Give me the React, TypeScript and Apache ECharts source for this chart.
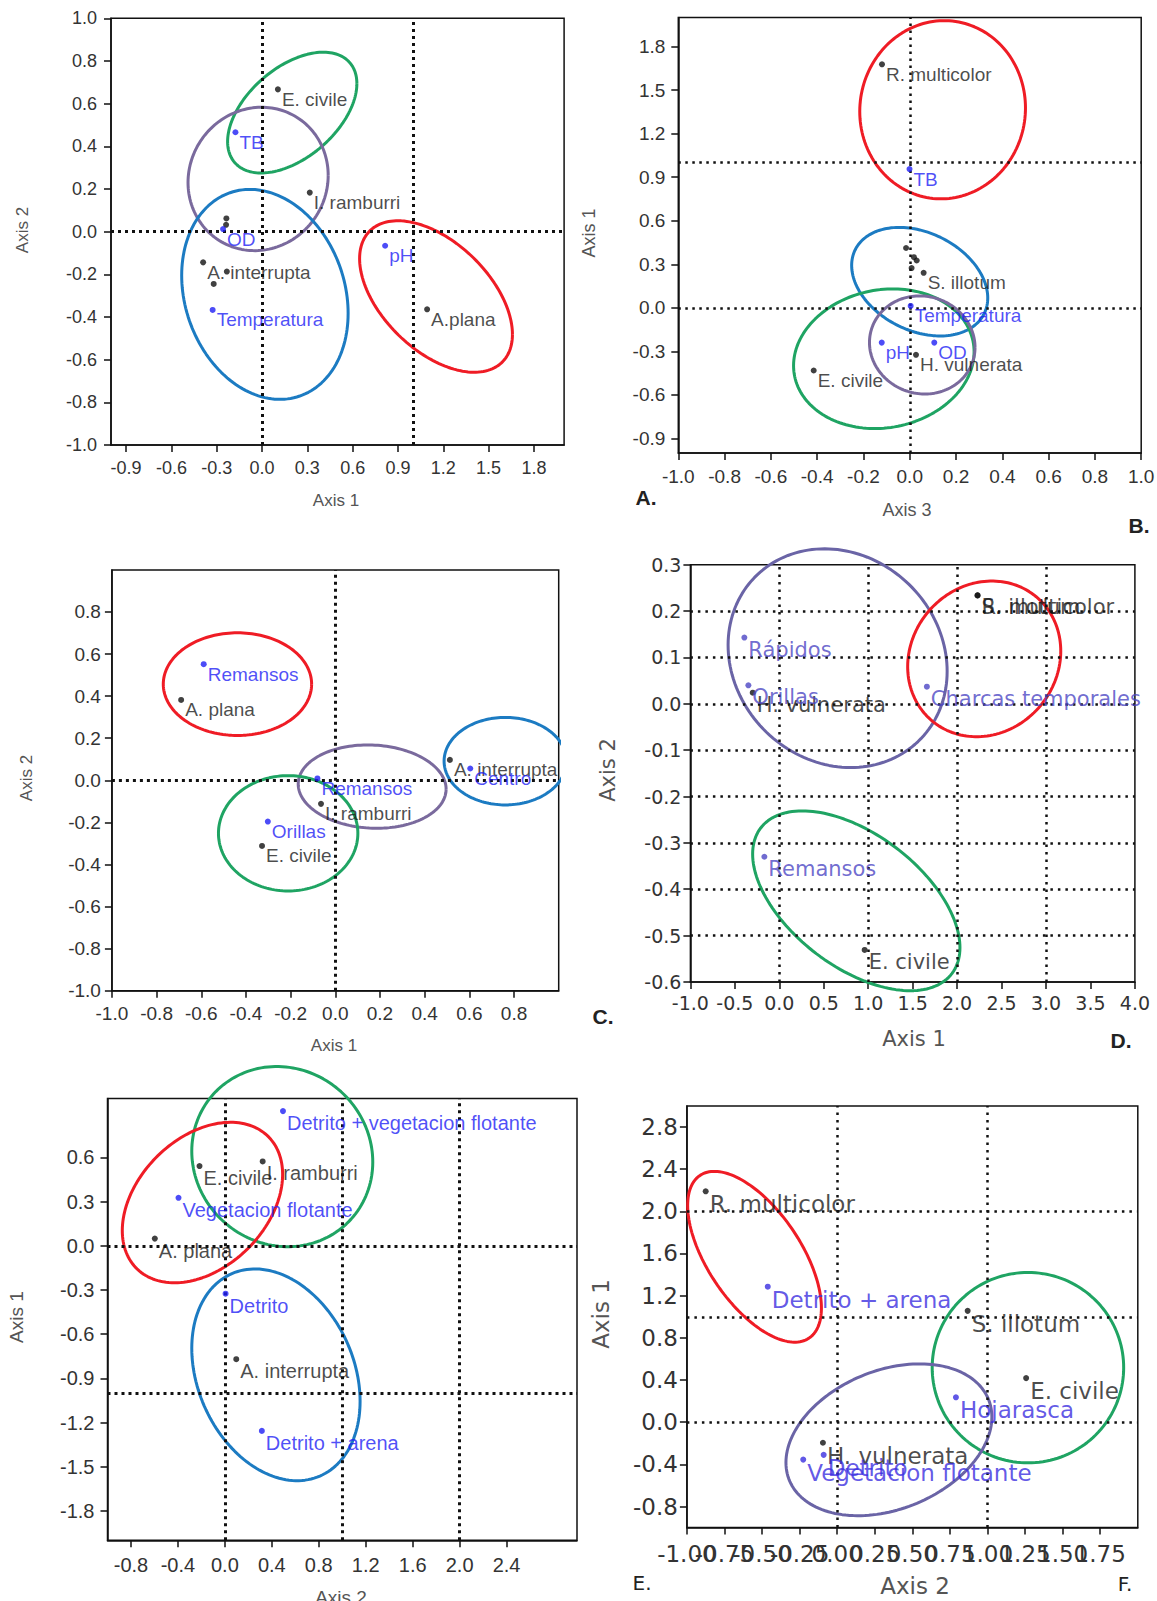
import React, { useEffect, useRef } from "react";
import * as echarts from "echarts";

type Item = [string, number, number];
// [group, centreX, centreY, halfExtentX, halfExtentY, tilt correlation]
type Ell = [string, number, number, number, number, number];

// ---------------- Panel A ----------------
const aXTicks = [-0.9, -0.6, -0.3, 0, 0.3, 0.6, 0.9, 1.2, 1.5, 1.8];
const aYTicks = [-1, -0.8, -0.6, -0.4, -0.2, 0, 0.2, 0.4, 0.6, 0.8, 1];
const aSpecies: Item[] = [
  ["E. civile", 0.105, 0.667],
  ["I. ramburri", 0.316, 0.183],
  ["", -0.236, 0.062],
  ["", -0.238, 0.032],
  ["A. interrupta", -0.39, -0.144],
  ["", -0.233, -0.187],
  ["", -0.32, -0.245],
  ["A.plana", 1.093, -0.364],
];
const aVariables: Item[] = [
  ["TB", -0.176, 0.466],
  ["OD", -0.258, 0.012],
  ["pH", 0.815, -0.066],
  ["Temperatura", -0.327, -0.367],
];
const aEllipses: Ell[] = [
  ["green", 0.2, 0.558, 0.428, 0.283, 0.48],
  ["purple", -0.026, 0.247, 0.464, 0.336, 0.05],
  ["blue", 0.019, -0.294, 0.551, 0.492, -0.18],
  ["red", 1.152, -0.304, 0.506, 0.355, -0.5],
];

// ---------------- Panel B ----------------
const bXTicks = [-1, -0.8, -0.6, -0.4, -0.2, 0, 0.2, 0.4, 0.6, 0.8, 1];
const bYTicks = [-0.9, -0.6, -0.3, 0, 0.3, 0.6, 0.9, 1.2, 1.5, 1.8];
const bSpecies: Item[] = [
  ["R. multicolor", -0.12, 1.678],
  ["", -0.016, 0.412],
  ["", 0.018, 0.349],
  ["", 0.03, 0.326],
  ["", 0.008, 0.274],
  ["S. illotum", 0.06, 0.241],
  ["H. vulnerata", 0.027, -0.324],
  ["E. civile", -0.415, -0.432],
];
const bVariables: Item[] = [
  ["TB", -0.001, 0.956],
  ["Temperatura", 0.004, 0.013],
  ["pH", -0.121, -0.24],
  ["OD", 0.106, -0.24],
];
const bEllipses: Ell[] = [
  ["red", 0.142, 1.365, 0.358, 0.614, 0.02],
  ["blue", 0.043, 0.18, 0.294, 0.374, -0.3],
  ["green", -0.112, -0.351, 0.39, 0.481, 0.1],
  ["purple", 0.054, -0.256, 0.228, 0.338, -0.05],
];

// ---------------- Panel C ----------------
const cXTicks = [-1, -0.8, -0.6, -0.4, -0.2, 0, 0.2, 0.4, 0.6, 0.8];
const cYTicks = [-1, -0.8, -0.6, -0.4, -0.2, 0, 0.2, 0.4, 0.6, 0.8];
const cSpecies: Item[] = [
  ["A. plana", -0.69, 0.382],
  ["I. ramburri", -0.064, -0.112],
  ["E. civile", -0.328, -0.312],
  ["A. interrupta", 0.513, 0.097],
];
const cVariables: Item[] = [
  ["Remansos", -0.589, 0.552],
  ["Remansos", -0.08, 0.009],
  ["Orillas", -0.302, -0.196],
  ["Centro", 0.604, 0.056],
];
const cEllipses: Ell[] = [
  ["red", -0.438, 0.457, 0.332, 0.244, 0],
  ["purple", 0.165, -0.03, 0.331, 0.198, -0.06],
  ["blue", 0.761, 0.091, 0.274, 0.208, 0],
  ["green", -0.211, -0.252, 0.312, 0.274, 0],
];

// ---------------- Panel D ----------------
const dXTicks = [-1, -0.5, 0, 0.5, 1, 1.5, 2, 2.5, 3, 3.5, 4];
const dYTicks = [-0.6, -0.5, -0.4, -0.3, -0.2, -0.1, 0, 0.1, 0.2, 0.3];
const dSpecies: Item[] = [
  ["R. multicolor", 2.23, 0.234],
  ["S. illotum", 2.23, 0.234],
  ["H. vulnerata", -0.299, 0.024],
  ["E. civile", 0.96, -0.531],
];
const dVariables: Item[] = [
  ["Rápidos", -0.393, 0.143],
  ["Orillas", -0.348, 0.04],
  ["Charcas temporales", 1.66, 0.037],
  ["Remansos", -0.168, -0.33],
];
const dEllipses: Ell[] = [
  ["purple", 0.656, 0.0985, 1.232, 0.236, -0.12],
  ["red", 2.305, 0.097, 0.861, 0.168, 0.1],
  ["green", 0.866, -0.425, 1.166, 0.194, -0.52],
];

// ---------------- Panel E ----------------
const eXTicks = [-0.8, -0.4, 0, 0.4, 0.8, 1.2, 1.6, 2, 2.4];
const eYTicks = [-1.8, -1.5, -1.2, -0.9, -0.6, -0.3, 0, 0.3, 0.6];
const eSpecies: Item[] = [
  ["E. civile", -0.216, 0.542],
  ["I. ramburri", 0.322, 0.573],
  ["A. plana", -0.597, 0.049],
  ["A. interrupta", 0.097, -0.77],
];
const eVariables: Item[] = [
  ["Detrito + vegetacion flotante", 0.495, 0.915],
  ["Vegetacion flotante", -0.395, 0.326],
  ["Detrito", 0.006, -0.325],
  ["Detrito + arena", 0.315, -1.257],
];
const eEllipses: Ell[] = [
  ["green", 0.489, 0.606, 0.771, 0.612, -0.06],
  ["red", -0.191, 0.294, 0.683, 0.545, 0.35],
  ["blue", 0.435, -0.876, 0.717, 0.719, -0.25],
];

// ---------------- Panel F ----------------
const fXTicks = [-1, -0.75, -0.5, -0.25, 0, 0.25, 0.5, 0.75, 1, 1.25, 1.5, 1.75];
const fYTicks = [-0.8, -0.4, 0, 0.4, 0.8, 1.2, 1.6, 2, 2.4, 2.8];
const fSpecies: Item[] = [
  ["R. multicolor", -0.875, 2.19],
  ["S. illotum", 0.868, 1.056],
  ["E. civile", 1.257, 0.418],
  ["H. vulnerata", -0.095, -0.195],
];
const fVariables: Item[] = [
  ["Detrito + arena", -0.462, 1.285],
  ["Hojarasca", 0.79, 0.236],
  ["Detrito", -0.09, -0.31],
  ["Vegetacion flotante", -0.226, -0.355],
];
const fEllipses: Ell[] = [
  ["red", -0.55, 1.569, 0.445, 0.81, -0.6],
  ["green", 1.269, 0.517, 0.637, 0.903, 0],
  ["purple", 0.344, -0.167, 0.685, 0.72, 0.3],
];

// ---------------- styles / layout ----------------
const SANS = "'Liberation Sans', Arial, sans-serif";
const DEJA = "'DejaVu Sans', sans-serif";
const ELL_COLORS: Record<string, string> = {
  red: "#ef1c25",
  green: "#1fa463",
  blue: "#1c7bc2",
  purple: "#7a6a9d",
};

interface Panel {
  grid: { left: number; top: number; width: number; height: number };
  xr: [number, number];
  yr: [number, number];
  xt: number[];
  yt: number[];
  xDec: number;
  species: Item[];
  vars: Item[];
  ells: Ell[];
  vLines: number[];
  hLines: number[];
  refW: number;
  refDash: number[];
  font: string;
  tickSize: number;
  labelSize: number;
  labelOff: number;
  xMargin: number;
  yMargin: number;
  varColor: string;
  purple?: string;
  splitXLabels?: boolean;
}

const panels: Panel[] = [
  {
    grid: { left: 111, top: 18.3, width: 453.1, height: 426.7 },
    xr: [-1, 2], yr: [-1, 1], xt: aXTicks, yt: aYTicks, xDec: 1,
    species: aSpecies, vars: aVariables, ells: aEllipses,
    vLines: [0, 1], hLines: [0], refW: 3, refDash: [3, 4],
    font: SANS, tickSize: 18, labelSize: 19, labelOff: 10, xMargin: 14, yMargin: 14,
    varColor: "#1f1ff5",
  },
  {
    grid: { left: 678.3, top: 17.6, width: 462.9, height: 435.3 },
    xr: [-1, 1], yr: [-1, 2], xt: bXTicks, yt: bYTicks, xDec: 1,
    species: bSpecies, vars: bVariables, ells: bEllipses,
    vLines: [0], hLines: [0, 1], refW: 2.5, refDash: [2.5, 4.5],
    font: SANS, tickSize: 19, labelSize: 19, labelOff: 10, xMargin: 14, yMargin: 13,
    varColor: "#1f1ff5",
  },
  {
    grid: { left: 111.9, top: 569.9, width: 446.8, height: 420.8 },
    xr: [-1, 1], yr: [-1, 1], xt: cXTicks, yt: cYTicks, xDec: 1,
    species: cSpecies, vars: cVariables, ells: cEllipses,
    vLines: [0], hLines: [0], refW: 3, refDash: [3, 4],
    font: SANS, tickSize: 19, labelSize: 19, labelOff: 10, xMargin: 13, yMargin: 11,
    varColor: "#1f1ff5",
  },
  {
    grid: { left: 690.4, top: 564.8, width: 444.5, height: 417.1 },
    xr: [-1, 4], yr: [-0.6, 0.3], xt: dXTicks, yt: dYTicks, xDec: 1,
    species: dSpecies, vars: dVariables, ells: dEllipses,
    vLines: [0, 1, 2, 3], hLines: [0.2, 0.1, 0, -0.1, -0.2, -0.3, -0.4, -0.5],
    refW: 2.5, refDash: [2.5, 5],
    font: DEJA, tickSize: 19, labelSize: 21, labelOff: 12, xMargin: 12, yMargin: 9,
    varColor: "#4c46c4", purple: "#6a64a6",
  },
  {
    grid: { left: 107.5, top: 1098.6, width: 469.5, height: 441.7 },
    xr: [-1, 3], yr: [-2, 1], xt: eXTicks, yt: eYTicks, xDec: 1,
    species: eSpecies, vars: eVariables, ells: eEllipses,
    vLines: [0, 1, 2], hLines: [0, -1], refW: 3, refDash: [3, 4],
    font: SANS, tickSize: 20, labelSize: 20, labelOff: 12, xMargin: 15, yMargin: 13,
    varColor: "#1f1ff5",
  },
  {
    grid: { left: 686.9, top: 1105.9, width: 450.9, height: 421.7 },
    xr: [-1, 2], yr: [-1, 3], xt: fXTicks, yt: fYTicks, xDec: 2,
    species: fSpecies, vars: fVariables, ells: fEllipses,
    vLines: [0, 1], hLines: [2, 1, 0], refW: 2.5, refDash: [2.5, 5],
    font: DEJA, tickSize: 23, labelSize: 23, labelOff: 13, xMargin: 15, yMargin: 9,
    varColor: "#3a2ee0", purple: "#6a64a6", splitXLabels: true,
  },
];

const axisNames: { text: string; x: number; y: number; rot: boolean; font: string }[] = [
  { text: "Axis 1", x: 336, y: 500, rot: false, font: `17px ${SANS}` },
  { text: "Axis 2", x: 22, y: 230, rot: true, font: `17px ${SANS}` },
  { text: "Axis 3", x: 907, y: 510, rot: false, font: `18px ${SANS}` },
  { text: "Axis 1", x: 589, y: 233, rot: true, font: `18px ${SANS}` },
  { text: "Axis 1", x: 334, y: 1045, rot: false, font: `17px ${SANS}` },
  { text: "Axis 2", x: 26, y: 778, rot: true, font: `17px ${SANS}` },
  { text: "Axis 1", x: 914, y: 1039, rot: false, font: `21px ${DEJA}` },
  { text: "Axis 2", x: 608, y: 770, rot: true, font: `21px ${DEJA}` },
  { text: "Axis 2", x: 341, y: 1597, rot: false, font: `19px ${SANS}` },
  { text: "Axis 1", x: 16, y: 1317, rot: true, font: `19px ${SANS}` },
  { text: "Axis 2", x: 915, y: 1586, rot: false, font: `23px ${DEJA}` },
  { text: "Axis 1", x: 601, y: 1314, rot: true, font: `23px ${DEJA}` },
];

const panelLetters: { text: string; x: number; y: number; font: string }[] = [
  { text: "A.", x: 646, y: 497, font: `bold 21px ${SANS}` },
  { text: "B.", x: 1139, y: 525, font: `bold 21px ${SANS}` },
  { text: "C.", x: 603, y: 1016, font: `bold 21px ${SANS}` },
  { text: "D.", x: 1121, y: 1040, font: `bold 21px ${SANS}` },
  { text: "E.", x: 642, y: 1583, font: `20px ${DEJA}` },
  { text: "F.", x: 1125, y: 1584, font: `20px ${DEJA}` },
];

function ellipsePoints(e: Ell): number[][] {
  const [, cx, cy, hx, hy, rho] = e;
  const s = Math.sqrt(1 - rho * rho);
  const pts: number[][] = [];
  const n = 160;
  for (let k = 0; k <= n; k++) {
    const t = (k / n) * Math.PI * 2;
    pts.push([cx + hx * Math.cos(t), cy + hy * (rho * Math.cos(t) + s * Math.sin(t))]);
  }
  return pts;
}

function buildOption() {
  const grid: any[] = [];
  const xAxis: any[] = [];
  const yAxis: any[] = [];
  const extraX: any[] = [];
  const series: any[] = [];

  panels.forEach((p, i) => {
    grid.push({
      ...p.grid,
      show: true,
      borderColor: "#111",
      borderWidth: 1.5,
      containLabel: false,
      outerBoundsMode: "none",
    });
    const axisCommon = (
      min: number,
      max: number,
      ticks: number[],
      labels: number[],
      dec: number,
      margin: number,
      position: string
    ): any => ({
      type: "value",
      gridIndex: i,
      position,
      offset: 0,
      min,
      max,
      axisLine: { show: true, onZero: false, lineStyle: { color: "#111", width: 1.5 } },
      axisTick: { show: true, length: 7, customValues: ticks, lineStyle: { color: "#111", width: 1.5 } },
      axisLabel: {
        customValues: labels,
        showMinLabel: true,
        showMaxLabel: true,
        hideOverlap: false,
        formatter: (v: number) => v.toFixed(dec),
        margin,
        fontSize: p.tickSize,
        fontFamily: p.font,
        color: "#333",
      },
      splitLine: { show: false },
    });
    if (p.splitXLabels) {
      const even = p.xt.filter((_, k) => k % 2 === 0);
      const odd = p.xt.filter((_, k) => k % 2 === 1);
      xAxis.push(axisCommon(p.xr[0], p.xr[1], p.xt, even, p.xDec, p.xMargin, "bottom"));
      const second = axisCommon(p.xr[0], p.xr[1], p.xt, odd, p.xDec, p.xMargin, "bottom");
      second.axisLine = { show: false, onZero: false };
      second.axisTick = { ...second.axisTick, show: false };
      extraX.push(second);
    } else {
      xAxis.push(axisCommon(p.xr[0], p.xr[1], p.xt, p.xt, p.xDec, p.xMargin, "bottom"));
    }
    yAxis.push(axisCommon(p.yr[0], p.yr[1], p.yt, p.yt, 1, p.yMargin, "left"));

    p.ells.forEach((e) => {
      const col = e[0] === "purple" && p.purple ? p.purple : ELL_COLORS[e[0]];
      series.push({
        type: "line",
        xAxisIndex: i,
        yAxisIndex: i,
        data: ellipsePoints(e),
        showSymbol: false,
        symbol: "none",
        smooth: false,
        clip: false,
        silent: true,
        lineStyle: { color: col, width: 3 },
        z: 2,
      });
    });

    const labelCfg = (color: string) => ({
      show: true,
      position: "right",
      distance: 1,
      offset: [0, p.labelOff],
      formatter: (d: any) => d.name || "",
      color,
      fontSize: p.labelSize,
      fontFamily: p.font,
    });

    series.push({
      type: "scatter",
      xAxisIndex: i,
      yAxisIndex: i,
      symbolSize: 6,
      itemStyle: { color: "#111" },
      data: p.species.map(([n, x, y]) => ({ name: n, value: [x, y] })),
      label: labelCfg("#1c1c1c"),
      z: 4,
      markLine: {
        silent: true,
        symbol: ["none", "none"],
        label: { show: false },
        lineStyle: { color: "#111", width: p.refW, type: p.refDash, cap: "butt" },
        data: [
          ...p.vLines.map((v) => ({ xAxis: v })),
          ...p.hLines.map((v) => ({ yAxis: v })),
        ],
      },
    });
    series.push({
      type: "scatter",
      xAxisIndex: i,
      yAxisIndex: i,
      symbolSize: 6,
      itemStyle: { color: p.varColor },
      data: p.vars.map(([n, x, y]) => ({ name: n, value: [x, y] })),
      label: labelCfg(p.varColor),
      z: 5,
    });
  });

  const graphic: any[] = [
    ...axisNames.map((a) => ({
      type: "text",
      x: a.x,
      y: a.y,
      rotation: a.rot ? Math.PI / 2 : 0,
      style: { text: a.text, font: a.font, fill: "#555", align: "center", verticalAlign: "middle" },
      silent: true,
    })),
    ...panelLetters.map((a) => ({
      type: "text",
      x: a.x,
      y: a.y,
      style: { text: a.text, font: a.font, fill: "#222", align: "center", verticalAlign: "middle" },
      silent: true,
    })),
  ];

  return {
    animation: false,
    backgroundColor: "#ffffff",
    grid,
    xAxis: [...xAxis, ...extraX],
    yAxis,
    series,
    graphic,
  };
}

export default function App() {
  const ref = useRef<HTMLDivElement>(null);
  useEffect(() => {
    document.body.style.overflow = "hidden";
    if (!ref.current) return;
    const chart = echarts.init(ref.current, null, { renderer: "svg" });
    chart.setOption(buildOption() as any);
    return () => chart.dispose();
  }, []);
  return (
    <div
      ref={ref}
      style={{ position: "absolute", left: 0, top: 0, width: 1157, height: 1601, background: "#fff" }}
    />
  );
}
